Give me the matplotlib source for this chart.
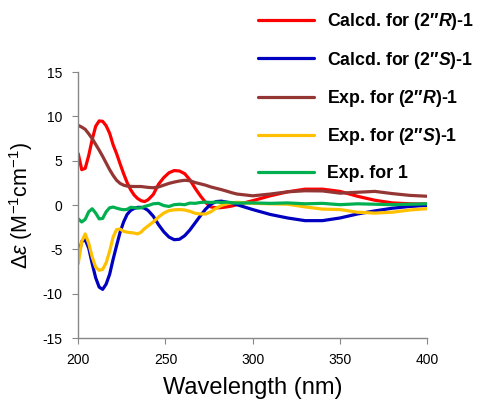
import matplotlib
matplotlib.use("Agg")
import matplotlib.pyplot as plt

# %%
# CD spectra
wavelength = [200, 202, 204, 206, 208, 210, 212, 214, 216, 218, 220, 222, 224, 226, 228,
              230, 232, 234, 236, 238, 240, 243, 246, 249, 252, 255, 258, 261, 264, 267,
              270, 273, 276, 279, 282, 285, 288, 291, 300, 310, 320, 330, 340, 350, 360,
              370, 380, 390, 400]

calcd_R = [5.8, 4.0, 4.15, 5.6, 7.4, 8.9, 9.5, 9.45, 8.95, 8.1, 6.8, 5.8, 4.65, 3.55, 2.55,
           1.75, 1.15, 0.75, 0.5, 0.4, 0.6, 1.2, 2.35, 3.1, 3.65, 3.9, 3.85, 3.55, 2.85, 1.9,
           1.05, 0.3, -0.2, -0.3, -0.28, -0.2, -0.1, 0.05, 0.5, 1.05, 1.5, 1.8, 1.8, 1.55, 1.0,
           0.55, 0.25, 0.15, 0.12]
calcd_S = [-5.85, -4.1, -3.9, -4.85, -6.6, -8.2, -9.25, -9.5, -8.9, -7.8, -6.1, -4.55, -3.05, -1.9, -1.05,
           -0.6, -0.38, -0.25, -0.25, -0.35, -0.6, -1.25, -2.2, -3.0, -3.6, -3.9, -3.85, -3.45, -2.8, -2.0,
           -1.2, -0.45, 0.1, 0.4, 0.45, 0.34, 0.2, 0.05, -0.5, -1.05, -1.45, -1.75, -1.75, -1.45, -1.0,
           -0.65, -0.35, -0.15, -0.03]
exp_R = [9.0, 8.8, 8.55, 8.05, 7.5, 6.85, 6.2, 5.5, 4.75, 4.0, 3.35, 2.8, 2.45, 2.25, 2.15,
         2.12, 2.1, 2.1, 2.1, 2.05, 2.0, 1.96, 2.05, 2.25, 2.45, 2.6, 2.72, 2.8, 2.75, 2.55,
         2.4, 2.25, 2.05, 1.9, 1.75, 1.58, 1.4, 1.25, 1.05, 1.25, 1.5, 1.62, 1.6, 1.35, 1.45,
         1.55, 1.3, 1.1, 1.0]
exp_S = [-6.6, -4.1, -3.25, -4.3, -5.85, -7.0, -7.35, -7.25, -6.5, -5.2, -3.6, -2.75, -2.7, -2.95, -3.05,
         -3.1, -3.15, -3.25, -3.05, -2.65, -2.35, -1.9, -1.35, -0.9, -0.62, -0.53, -0.5, -0.55, -0.7, -0.92,
         -1.0, -1.0, -0.75, -0.35, -0.05, 0.15, 0.25, 0.32, 0.2, 0.15, 0.1, -0.2, -0.45, -0.5, -0.8,
         -0.9, -0.8, -0.55, -0.4]
exp_1 = [-1.55, -1.9, -1.6, -0.75, -0.41, -0.9, -1.55, -1.5, -0.75, -0.3, -0.22, -0.34, -0.45, -0.52, -0.48,
         -0.25, -0.28, -0.34, -0.3, -0.15, -0.05, 0.15, 0.2, -0.05, -0.15, 0.05, 0.1, 0.05, 0.23, 0.2,
         0.3, 0.34, 0.3, 0.35, 0.3, 0.34, 0.28, 0.23, 0.25, 0.2, 0.25, 0.15, 0.2, 0.05, 0.15,
         0.1, 0.05, 0.1, 0.15]

labels = ["Calcd. for (2\u2033$\\mathbfit{R}$)-1",
          "Calcd. for (2\u2033$\\mathbfit{S}$)-1",
          "Exp. for (2\u2033$\\mathbfit{R}$)-1",
          "Exp. for (2\u2033$\\mathbfit{S}$)-1",
          "Exp. for 1"]
colors = ["#FF0000", "#0000C0", "#943634", "#FFC000", "#00B050"]

# %%
plt.rcParams["font.family"] = ["Liberation Sans", "DejaVu Sans"]
plt.rcParams["mathtext.fontset"] = "custom"
plt.rcParams["mathtext.rm"] = "Liberation Sans"
plt.rcParams["mathtext.it"] = "Liberation Sans:italic"
plt.rcParams["mathtext.bf"] = "Liberation Sans:bold"
plt.rcParams["mathtext.bfit"] = "Liberation Sans:italic:bold"
plt.rcParams["axes.unicode_minus"] = False

fig = plt.figure(figsize=(4.8, 4.03), dpi=100)
ax = fig.add_axes([0.163, 0.161, 0.727, 0.66])

series = [calcd_R, calcd_S, exp_R, exp_S, exp_1]
handles = []
for ys, c, lab in zip(series, colors, labels):
    h, = ax.plot(wavelength, ys, color=c, lw=2.3, label=lab,
                 solid_capstyle="round", solid_joinstyle="round")
    handles.append(h)

ax.set_xlim(200, 400)
ax.set_ylim(-15, 15)
ax.set_xticks([200, 250, 300, 350, 400])
ax.set_yticks([-15, -10, -5, 0, 5, 10, 15])
for s in ["top", "right"]:
    ax.spines[s].set_visible(False)
for s in ["left", "bottom"]:
    ax.spines[s].set_color("#888888")
    ax.spines[s].set_linewidth(1.0)
ax.tick_params(colors="#888888", labelcolor="black", labelsize=10, length=4)
ax.tick_params(axis="y", pad=7.5)
ax.tick_params(axis="x", pad=7)

ax.set_xlabel("Wavelength (nm)", fontsize=17, labelpad=7)
ax.set_ylabel("$\\Delta\\mathit{\\varepsilon}$ (M$^{-1}$cm$^{-1}$)", fontsize=15.5, labelpad=5)

fig.legend(handles=handles, labels=labels, loc="upper left", bbox_to_anchor=(0.505, 1.012),
           frameon=False, prop={"weight": "bold", "size": 12.8}, handlelength=3.15,
           handletextpad=0.72, labelspacing=0.98)

fig.savefig("out.png", dpi=100)
